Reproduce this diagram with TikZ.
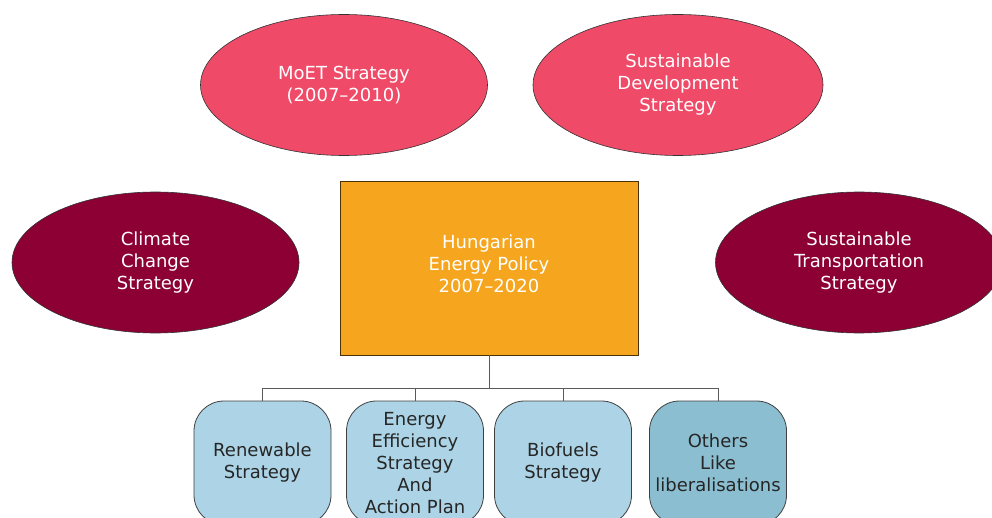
\documentclass[tikz,border=0pt]{standalone}
\usepackage{fontspec}
\setmainfont{DejaVu Sans}
\usetikzlibrary{shapes.geometric}
\definecolor{topred}{RGB}{239,74,104}
\definecolor{maroon}{RGB}{140,0,52}
\definecolor{orangebox}{RGB}{245,166,30}
\definecolor{lightbluebox}{RGB}{172,212,230}
\definecolor{tealbox}{RGB}{139,190,208}
\definecolor{linegray}{RGB}{90,90,90}
\begin{document}
\begin{tikzpicture}[x=1pt,y=-1pt,
  txt/.style={font=\fontsize{18pt}{22pt}\selectfont, align=center, inner sep=0pt},
  oval/.style={txt, ellipse, draw=black!80, line width=0.6pt, text=white,
     minimum width=287pt, minimum height=141pt},
  topoval/.style={oval, fill=topred},
  lowoval/.style={oval, fill=maroon},
  policy/.style={rectangle, draw=black!70!orangebox, line width=0.8pt, fill=orangebox,
     minimum width=298pt, minimum height=174pt, inner sep=0pt},
  subbox/.style={txt, rectangle, rounded corners=30pt, draw=black!75, line width=0.8pt,
     fill=lightbluebox, text=black!85, minimum width=137pt, minimum height=124pt},
  conn/.style={draw=linegray, line width=0.9pt}
]
\useasboundingbox (0,0) rectangle (992,518);
\clip (0,0) rectangle (992,518);

\node[topoval] (moet) at (344,85) {MoET Strategy\\(2007–2010)};
\node[topoval, minimum width=290pt] (sdev) at (678,85) {Sustainable\\Development\\Strategy};
\node[lowoval] (climate) at (155.5,262.5) {Climate\\Change\\Strategy};
\node[lowoval] (strans) at (859,262.5) {Sustainable\\Transportation\\Strategy};

\node[policy] (hep) at (489,268) {};
\node[txt, text=white] (heptext) at (489,264) {Hungarian\\Energy Policy\\2007–2020};

\node[subbox] (ren) at (262.5,463) {Renewable\\Strategy};
\node[subbox] (eff) at (415,463) {Energy\\Efficiency\\Strategy\\And\\Action Plan};
\node[subbox] (bio) at (563,463) {Biofuels\\Strategy};
\node[subbox, fill=tealbox] (oth) at (718,463) {Others\\Like\\liberalisations};

\coordinate (j) at (489,388);
\draw[conn] (hep.south) -- (j);
\draw[conn] (ren.north |- j) -- (oth.north |- j);
\draw[conn] (ren.north |- j) -- (ren.north);
\draw[conn] (eff.north |- j) -- (eff.north);
\draw[conn] (bio.north |- j) -- (bio.north);
\draw[conn] (oth.north |- j) -- (oth.north);
\end{tikzpicture}
\end{document}
